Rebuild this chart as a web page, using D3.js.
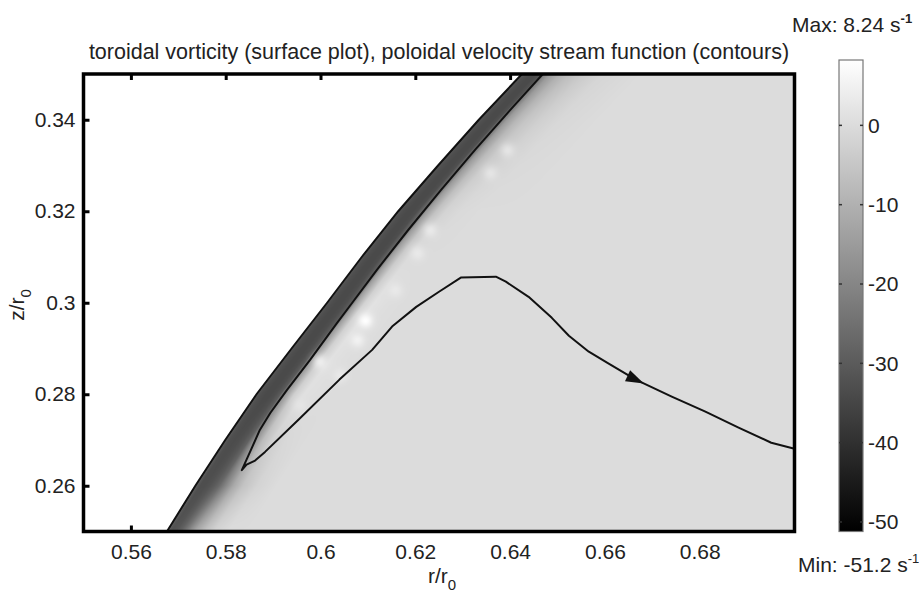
<!DOCTYPE html>
<html>
<head>
<meta charset="utf-8">
<script src="https://cdn.jsdelivr.net/npm/d3@7"></script>
<style>
  body { margin: 0; background: #fff; }
  svg { display: block; }
  text { font-family: "Liberation Sans", Arial, sans-serif; fill: #222; }
</style>
</head>
<body>
<svg id="chart" width="919" height="600"></svg>
<script>
// free surface (outer edge of the dark band): r/r0 at each z/r0
const surfaceZ = [0.25, 0.26, 0.27, 0.28, 0.29, 0.30, 0.31, 0.32, 0.33, 0.34, 0.35]
const surfaceR = [0.5676, 0.5736, 0.5799, 0.5865, 0.5939, 0.6014, 0.6087, 0.6164, 0.6248, 0.6334, 0.6425]

// vorticity profiles (1/s) sampled at horizontal offsets from the surface
const bandOffset = [0, 0.0005, 0.001, 0.002, 0.003, 0.004, 0.005, 0.006, 0.008, 0.010, 0.013, 0.017, 0.025]
const stationZ = [0.25, 0.26, 0.28, 0.30, 0.32, 0.35]
const profile025 = [-26, -31, -32, -31, -28, -23, -17, -12, -6, -2, 0, 0, 0]
const profile026 = [-27, -31, -33, -33, -32, -30, -27, -22, -12, -6, -2, 0, 0]
const profile028 = [-29, -32, -33, -34, -34, -33, -30, -16, -3, 1, 0.5, 0, 0]
const profile030 = [-30, -32, -33, -34, -34, -33, -30, -14, -2, 1.5, 0.5, 0, 0]
const profile032 = [-30, -32, -33, -34, -34, -33, -27, -15, -6, -2, -0.5, 0, 0]
const profile035 = [-30, -32, -33, -34, -34, -32, -20, -15, -10, -7, -4, -1.5, 0]

// light patches next to the band
const spotR = [0.6094, 0.6077, 0.5999, 0.6157, 0.6204, 0.6231, 0.6358, 0.6394, 0.6041, 0.5957]
const spotZ = [0.2962, 0.2919, 0.2871, 0.3028, 0.3109, 0.3159, 0.3284, 0.3334, 0.2842, 0.2777]
const spotV = [8, 5, 4, 3, 3, 3, 2, 2, 3, 2]

// stream function contour (enters at the top, hairpin, leaves on the right)
const streamR = [0.6469, 0.6400, 0.6326, 0.6254, 0.6185, 0.6119, 0.6067, 0.6035, 0.5978, 0.5929, 0.5894, 0.5872, 0.5853, 0.5834,
  0.5844, 0.5862, 0.5883, 0.5954, 0.6040, 0.6109, 0.6151, 0.6202, 0.6250, 0.6296, 0.6370, 0.6391, 0.6439, 0.6488, 0.6524,
  0.6566, 0.6608, 0.6665, 0.6741, 0.6812, 0.6882, 0.6951, 0.7000]
const streamZ = [0.3500, 0.3421, 0.3334, 0.3246, 0.3159, 0.3072, 0.3000, 0.2956, 0.2875, 0.2809, 0.2759, 0.2722, 0.2678, 0.2634,
  0.2646, 0.2655, 0.2674, 0.2745, 0.2832, 0.2897, 0.2948, 0.2991, 0.3024, 0.3055, 0.3057, 0.3046, 0.3013, 0.2967, 0.2928,
  0.2893, 0.2867, 0.2832, 0.2795, 0.2762, 0.2727, 0.2694, 0.2681]
const arrowAt = 31

const xTicks = [0.56, 0.58, 0.60, 0.62, 0.64, 0.66, 0.68]
const yTicks = [0.26, 0.28, 0.30, 0.32, 0.34]
const cbTicks = [0, -10, -20, -30, -40, -50]
const vMin = -51.2
const vMax = 8.24

const svg = d3.select('#chart')
const x = d3.scaleLinear().domain([0.55, 0.70]).range([83.5, 794.5])
const y = d3.scaleLinear().domain([0.25, 0.35]).range([531.5, 74])
const fontSize = 21

// inward ticks (drawn under the surface plot, like the original)
const tickStyle = g => {
    g.select('.domain').remove()
    g.selectAll('.tick line').attr('stroke', '#000').attr('stroke-width', 3)
    g.selectAll('.tick text').attr('fill', '#222').style('font-size', fontSize + 'px')
        .style('font-family', '"Liberation Sans", Arial, sans-serif')
}
svg.append('g').attr('transform', `translate(0,${y(0.25)})`)
    .call(d3.axisBottom(x).tickValues(xTicks).tickSize(-6).tickPadding(13).tickFormat(d3.format('~g')))
    .call(tickStyle)
svg.append('g').attr('transform', `translate(0,${y(0.35)})`)
    .call(d3.axisTop(x).tickValues(xTicks).tickSize(-6).tickFormat(''))
    .call(tickStyle)
svg.append('g').attr('transform', `translate(${x(0.55)},0)`)
    .call(d3.axisLeft(y).tickValues(yTicks).tickSize(-6).tickPadding(8).tickFormat(d3.format('~g')))
    .call(tickStyle)
svg.append('g').attr('transform', `translate(${x(0.70)},0)`)
    .call(d3.axisRight(y).tickValues(yTicks).tickSize(-6).tickFormat(''))
    .call(tickStyle)

// surface plot
const x0 = Math.round(x(0.55)), y0 = Math.round(y(0.35))
const W = Math.round(x(0.70)) - x0, H = Math.round(y(0.25)) - y0
const canvas = document.createElement('canvas')
canvas.width = W
canvas.height = H
const ctx = canvas.getContext('2d')
const img = ctx.createImageData(W, H)
const surf = d3.scaleLinear().domain(surfaceZ).range(surfaceR)
const profiles = [profile025, profile026, profile028, profile030, profile032, profile035]
    .map(p => d3.scaleLinear().domain(bandOffset).range(p).clamp(true))
const gray = d3.scaleLinear().domain([vMin, vMax]).range([0, 255]).clamp(true)
const spotSigma = 5
const pxPerR = x(0.56) - x(0.55)

for (let py = 0; py < H; py++) {
    const z = y.invert(y0 + py + 0.5)
    const rs = surf(z)
    let k = d3.bisectRight(stationZ, z) - 1
    k = Math.max(0, Math.min(stationZ.length - 2, k))
    const t = Math.max(0, Math.min(1, (z - stationZ[k]) / (stationZ[k + 1] - stationZ[k])))
    for (let px = 0; px < W; px++) {
        const r = x.invert(x0 + px + 0.5)
        const dr = r - rs
        const i = (py * W + px) * 4
        if (dr < 0) continue
        let v = profiles[k](dr) * (1 - t) + profiles[k + 1](dr) * t
        for (let s = 0; s < spotR.length; s++) {
            const dx = x(spotR[s]) - (x0 + px), dy = y(spotZ[s]) - (y0 + py)
            const w = Math.exp(-(dx * dx + dy * dy) / (2 * spotSigma * spotSigma))
            if (w > 0.01) v += (spotV[s] - v) * w
        }
        const g = Math.round(gray(v))
        const edge = dr * pxPerR * 100
        img.data[i] = g
        img.data[i + 1] = g
        img.data[i + 2] = g
        img.data[i + 3] = edge < 1 ? Math.round(255 * edge) : 255
    }
}
ctx.putImageData(img, 0, 0)
svg.append('image').attr('x', x0).attr('y', y0).attr('width', W).attr('height', H)
    .attr('href', canvas.toDataURL())

svg.append('clipPath').attr('id', 'plotclip').append('rect')
    .attr('x', x(0.55)).attr('y', y(0.35)).attr('width', x(0.70) - x(0.55)).attr('height', y(0.25) - y(0.35))
const plot = svg.append('g').attr('clip-path', 'url(#plotclip)')

const line = d3.line().x(d => x(d[0])).y(d => y(d[1]))
plot.append('path').attr('d', line(d3.zip(surfaceR, surfaceZ)))
    .attr('fill', 'none').attr('stroke', '#111').attr('stroke-width', 2)
plot.append('path').attr('d', line(d3.zip(streamR, streamZ)))
    .attr('fill', 'none').attr('stroke', '#111').attr('stroke-width', 2).attr('stroke-linejoin', 'round')

// direction arrow on the contour
const ax = x(streamR[arrowAt]), ay = y(streamZ[arrowAt])
const ang = Math.atan2(y(streamZ[arrowAt + 1]) - ay, x(streamR[arrowAt + 1]) - ax) * 180 / Math.PI
plot.append('path').attr('d', 'M9,0 L-9,-6 L-9,6 Z').attr('fill', '#111')
    .attr('transform', `translate(${ax},${ay}) rotate(${ang})`)

// axes box
svg.append('rect').attr('x', x(0.55)).attr('y', y(0.35))
    .attr('width', x(0.70) - x(0.55)).attr('height', y(0.25) - y(0.35))
    .attr('fill', 'none').attr('stroke', '#000').attr('stroke-width', 3.5)

// title and axis labels
svg.append('text').attr('x', (x(0.55) + x(0.70)) / 2).attr('y', 59).attr('text-anchor', 'middle')
    .style('font-size', '21.5px')
    .text('toroidal vorticity (surface plot), poloidal velocity stream function (contours)')

const xl = svg.append('text').attr('x', 442).attr('y', 583).attr('text-anchor', 'middle').style('font-size', fontSize + 'px')
xl.append('tspan').text('r/r')
xl.append('tspan').attr('dy', 7).style('font-size', '15px').text('0')

const yl = svg.append('text').attr('transform', 'translate(24,305) rotate(-90)').attr('text-anchor', 'middle')
    .style('font-size', fontSize + 'px')
yl.append('tspan').text('z/r')
yl.append('tspan').attr('dy', 7).style('font-size', '15px').text('0')

// colorbar
const cb = d3.scaleLinear().domain([vMin, vMax]).range([531.5, 60])
const cbColor = d3.scaleLinear().domain([vMin, vMax]).range(['#000', '#fff'])
const grad = svg.append('defs').append('linearGradient').attr('id', 'cbgrad')
    .attr('x1', 0).attr('x2', 0).attr('y1', 1).attr('y2', 0)
grad.selectAll('stop').data([vMin, vMax]).join('stop')
    .attr('offset', d => (d - vMin) / (vMax - vMin))
    .attr('stop-color', d => cbColor(d))
const cbX = 839, cbW = 24
svg.append('rect').attr('x', cbX).attr('y', cb(vMax)).attr('width', cbW).attr('height', cb(vMin) - cb(vMax))
    .attr('fill', 'url(#cbgrad)').attr('stroke', '#777').attr('stroke-width', 1.2)
const cbt = svg.append('g').selectAll('g').data(cbTicks).join('g')
    .attr('transform', d => `translate(0,${cb(d)})`)
cbt.append('line').attr('x1', cbX).attr('x2', cbX + 3).attr('stroke', '#333').attr('stroke-width', 1.5)
cbt.append('line').attr('x1', cbX + cbW - 3).attr('x2', cbX + cbW).attr('stroke', '#333').attr('stroke-width', 1.5)
cbt.append('text').attr('x', 868).attr('dy', '0.35em').style('font-size', fontSize + 'px').text(d => d)

const maxT = svg.append('text').attr('x', 792).attr('y', 32).style('font-size', fontSize + 'px')
maxT.append('tspan').text('Max: ' + vMax + ' s')
maxT.append('tspan').attr('dy', -9).style('font-size', '13px').style('font-weight', 'bold').text('-1')
const minT = svg.append('text').attr('x', 798).attr('y', 572).style('font-size', fontSize + 'px')
minT.append('tspan').text('Min: ' + vMin + ' s')
minT.append('tspan').attr('dy', -9).style('font-size', '13px').text('-1')
</script>
</body>
</html>
